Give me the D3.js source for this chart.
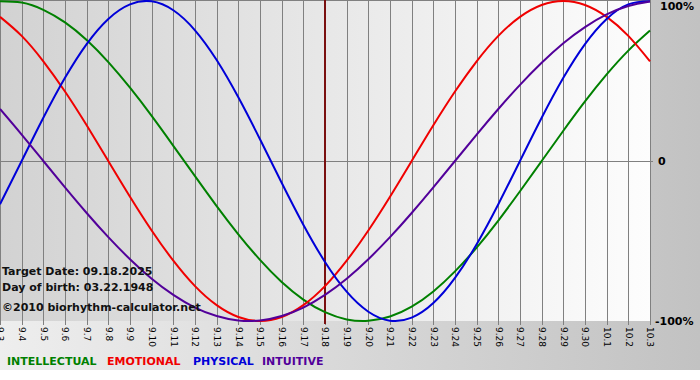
<!DOCTYPE html>
<html><head><meta charset="utf-8">
<script src="https://cdn.jsdelivr.net/npm/d3@7/dist/d3.min.js"></script>
<style>html,body{margin:0;padding:0;background:#fff;}svg{display:block;}</style>
</head><body>
<svg id="c" width="700" height="380"></svg>
<script>
const dayLabels = ["9.3","9.4","9.5","9.6","9.7","9.8","9.9","9.10","9.11","9.12","9.13","9.14","9.15","9.16","9.17","9.18","9.19","9.20","9.21","9.22","9.23","9.24","9.25","9.26","9.27","9.28","9.29","9.30","10.1","10.2","10.3"];
const physical = [-0.270,0,0.270,0.520,0.731,0.888,0.979,0.998,0.942,0.817,0.631,0.398,0.136,-0.136,-0.398,-0.631,-0.817,-0.942,-0.998,-0.979,-0.888,-0.731,-0.520,-0.270,0,0.270,0.520,0.731,0.888,0.979,0.998];
const emotional = [0.901,0.782,0.623,0.434,0.223,0,-0.223,-0.434,-0.623,-0.782,-0.901,-0.975,-1.000,-0.975,-0.901,-0.782,-0.623,-0.434,-0.223,0,0.223,0.434,0.623,0.782,0.901,0.975,1.000,0.975,0.901,0.782,0.623];
const intellectual = [0.999,0.990,0.945,0.866,0.756,0.618,0.458,0.282,0.095,-0.095,-0.282,-0.458,-0.618,-0.756,-0.866,-0.945,-0.990,-0.999,-0.972,-0.910,-0.815,-0.690,-0.541,-0.372,-0.189,0,0.189,0.372,0.541,0.690,0.815];
const intuitive = [0.325,0.165,0,-0.165,-0.325,-0.476,-0.614,-0.736,-0.837,-0.916,-0.969,-0.997,-0.997,-0.969,-0.916,-0.837,-0.736,-0.614,-0.476,-0.325,-0.165,0,0.165,0.325,0.476,0.614,0.736,0.837,0.916,0.969,0.997];
const yTicks = [1,0,-1];
const yTickLabels = ["100%","0","-100%"];
const targetDay = "9.18";
const infoLines = ["Target Date: 09.18.2025","Day of birth: 03.22.1948","\u00a92010 biorhythm-calculator.net"];
const legendNames = ["INTELLECTUAL","EMOTIONAL","PHYSICAL","INTUITIVE"];

const svg = d3.select("#c");
const defs = svg.append("defs");
const g1 = defs.append("linearGradient").attr("id","outer").attr("x1","0").attr("x2","1").attr("y1","0").attr("y2","0");
g1.append("stop").attr("offset","0").attr("stop-color","#eeeeee");
g1.append("stop").attr("offset","1").attr("stop-color","#c2c2c2");
const g2 = defs.append("linearGradient").attr("id","plot").attr("x1","0").attr("x2","1").attr("y1","0").attr("y2","0");
g2.append("stop").attr("offset","0").attr("stop-color","#d2d2d2");
g2.append("stop").attr("offset","1").attr("stop-color","#fdfdfd");

const L = 0, R = 650, T = 1, B = 321;
svg.append("rect").attr("x",0).attr("y",0).attr("width",700).attr("height",370).attr("fill","url(#outer)");
svg.append("rect").attr("x",0).attr("y",0).attr("width",R).attr("height",B).attr("fill","url(#plot)");

const x = d3.scalePoint().domain(dayLabels).range([L,R]);
const y = d3.scaleLinear().domain([-1,1]).range([B,T]);

// vertical grid / ticks
const xAxis = d3.axisBottom(x).tickSize(B+4).tickSizeOuter(0).tickPadding(3);
const gx = svg.append("g").call(xAxis);
gx.select(".domain").remove();
gx.selectAll(".tick line").attr("stroke","#808080").attr("stroke-width",1).attr("shape-rendering","crispEdges");
gx.selectAll(".tick text")
  .attr("x",0).attr("y",0).attr("dy","0.35em").attr("text-anchor","start")
  .attr("transform","translate(0,"+(B+6)+") rotate(90)")
  .attr("font-family","Tahoma, 'DejaVu Sans', Verdana, sans-serif").attr("font-size","9px").attr("fill","#000");

// top border
svg.append("line").attr("x1",0).attr("x2",R).attr("y1",0.5).attr("y2",0.5).attr("stroke","#808080");

// y axis on right
const yAxis = d3.axisRight(y).tickValues(yTicks).tickFormat((d,i)=>yTickLabels[i]).tickSize(0).tickPadding(0);
const gy = svg.append("g").attr("transform","translate("+R+",0)").call(yAxis);
gy.select(".domain").remove();
gy.selectAll(".tick text").attr("font-family","Verdana, 'DejaVu Sans', sans-serif").attr("font-weight","bold").attr("font-size","11px").attr("fill","#000")
  .attr("x",(d)=> d===0 ? 8 : (d===1 ? 10 : 5)).attr("dy",(d)=> d===1 ? "0.75em" : "0.35em");
// zero line
svg.append("line").attr("x1",L).attr("x2",R+3).attr("y1",y(0)).attr("y2",y(0)).attr("stroke","#808080").attr("shape-rendering","crispEdges");

// target line
svg.append("line").attr("x1",x(targetDay)).attr("x2",x(targetDay)).attr("y1",0).attr("y2",B+3).attr("stroke","#7a1010").attr("stroke-width",2);

const series = [
  {name:"INTELLECTUAL", vals:intellectual, color:"#008000"},
  {name:"EMOTIONAL", vals:emotional, color:"#f00000"},
  {name:"PHYSICAL", vals:physical, color:"#0000d8"},
  {name:"INTUITIVE", vals:intuitive, color:"#52009a"}
];
const line = d3.line().x((d,i)=>x(dayLabels[i])).y(d=>y(d)).curve(d3.curveNatural);
series.forEach(s=>{
  svg.append("path").attr("d",line(s.vals)).attr("fill","none").attr("stroke",s.color).attr("stroke-width",2);
});

// info text
const info = svg.append("g").attr("font-family","Verdana, 'DejaVu Sans', sans-serif").attr("font-weight","bold").attr("font-size","11px").attr("fill","#111");
const infoY = [275, 291, 311];
infoLines.forEach((t,i)=>info.append("text").attr("x",2).attr("y",infoY[i]).text(t));

// legend
const legendX = [7,107,193,262];
const lg = svg.append("g").attr("font-family","Verdana, 'DejaVu Sans', sans-serif").attr("font-weight","bold").attr("font-size","11px");
legendNames.forEach((n,i)=>{
  const s = series.find(q=>q.name===n);
  lg.append("text").attr("x",legendX[i]).attr("y",365).attr("fill",s.color).text(n);
});
</script>
</body></html>
